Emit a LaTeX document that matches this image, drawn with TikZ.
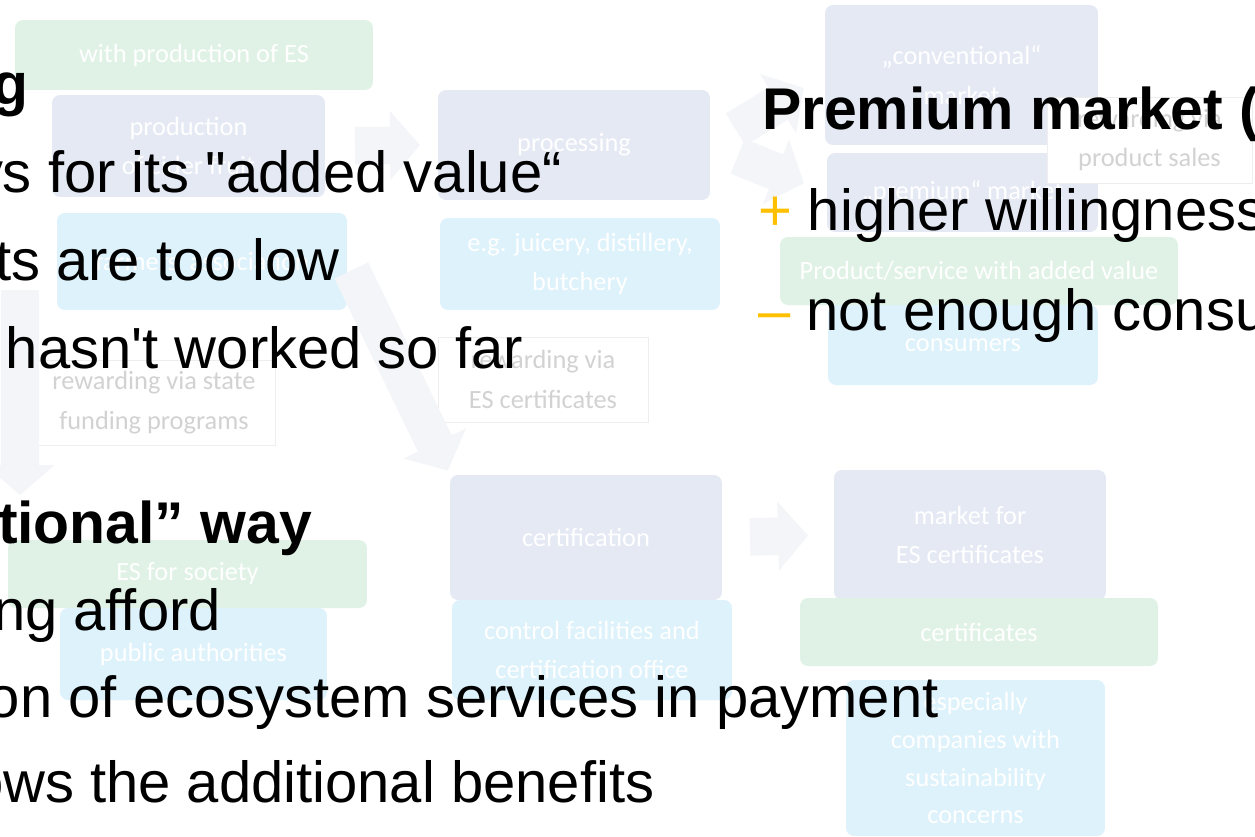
\documentclass[tikz,border=0pt]{standalone}
\usepackage{fontspec}
\setmainfont{Liberation Sans}
\newfontfamily\boxfont{Carlito}
\usetikzlibrary{arrows.meta}
\definecolor{boxblue}{HTML}{E4E9F4}
\definecolor{boxcyan}{HTML}{DDF2FA}
\definecolor{boxgreen}{HTML}{DFF2E5}
\definecolor{boxline}{HTML}{EEEEEE}
\definecolor{boxgrey}{HTML}{D2D2D2}
\definecolor{fadegrey}{HTML}{F4F5F9}
\definecolor{markorange}{HTML}{FFC000}

\begin{document}
\begin{tikzpicture}[x=0.02cm,y=-0.02cm,
  every node/.style={align=center,inner sep=0pt,outer sep=0pt,
    font=\boxfont\fontsize{15}{22.5}\selectfont},
  es/.style={rounded corners=0.16cm,text=white},
  bluebox/.style={es,fill=boxblue},
  cyanbox/.style={es,fill=boxcyan},
  greenbox/.style={es,fill=boxgreen},
  paybox/.style={draw=boxline,fill=white,text=boxgrey},
  fade/.style={draw=fadegrey,line width=0.75cm,
    -{Triangle[length=0.6cm,width=1.35cm]}},
  txt/.style={anchor=base west,text=black,font=\fontsize{33}{40}\selectfont},
  hd/.style={txt,font=\bfseries\fontsize{33.5}{40}\selectfont}]
\useasboundingbox (0,0) rectangle (1255,836);
\clip (0,0) rectangle (1255,836);
\fill [white] (0,0) rectangle (1255,836);

\node (ines) [greenbox,minimum width=7.16cm,minimum height=1.4cm] at (194,55) {with production of ES};
\node (prod) [bluebox,minimum width=5.46cm,minimum height=2.04cm] at (188.5,146) {production\\of cider fruit};
\node (farm) [cyanbox,minimum width=5.8cm,minimum height=1.94cm] at (202,261.5) {farmers' association};
\node (rst) [paybox,minimum width=4.84cm,minimum height=1.7cm] at (154,402.5) {rewarding via state\\funding programs};

\node (proc) [bluebox,minimum width=5.44cm,minimum height=2.2cm] at (574,145) {processing};
\node (juic) [cyanbox,minimum width=5.6cm,minimum height=1.84cm] at (580,264) {e.g. juicery, distillery,\\butchery};
\node (rcert) [paybox,minimum width=4.2cm,minimum height=1.7cm] at (543,379.5) {rewarding via\\ES certificates};
\node (cert) [bluebox,minimum width=5.44cm,minimum height=2.5cm] at (586,537.5) {certification};
\node (ctrl) [cyanbox,minimum width=5.6cm,minimum height=2cm] at (592,650) {control facilities and\\certification office};

\node (conv) [bluebox,minimum width=5.46cm,minimum height=2.8cm] at (961.5,75) {„conventional“\\market};
\node (prem) [bluebox,minimum width=5.42cm,minimum height=1.58cm] at (962.5,192.5) {„premium“ market};
\node (rsale) [paybox,minimum width=4.1cm,minimum height=1.72cm] at (1149.5,140) {rewarding via\\product sales};
\node (addv) [greenbox,minimum width=7.96cm,minimum height=1.36cm] at (979,271) {Product/service with added value};
\node (cons) [cyanbox,minimum width=5.4cm,minimum height=1.6cm] at (963,345) {consumers};

\node (esm) [bluebox,minimum width=5.44cm,minimum height=2.6cm] at (970,535) {market for\\ES certificates};
\node (certs) [greenbox,minimum width=7.16cm,minimum height=1.36cm] at (979,632) {certificates};
\node (comp) [cyanbox,minimum width=5.18cm,minimum height=3.12cm,
  font=\boxfont\fontsize{15}{21.6}\selectfont] at (975.5,758)
  {especially\\companies with\\sustainability\\concerns};

\node (soc) [greenbox,minimum width=7.18cm,minimum height=1.36cm] at (187.5,574) {ES for society};
\node (auth) [cyanbox,minimum width=5.34cm,minimum height=1.84cm] at (193.5,654) {public authorities};

\coordinate (down) at (20,290);
\draw [fade,shorten <=0.6cm,shorten >=0.36cm] (prod.east) -- (proc.west);
\draw [fade,shorten <=0.6cm,shorten >=0.5cm] (proc.east) -- (conv.west);
\draw [fade,shorten <=0.6cm,shorten >=0.5cm] (proc.east) -- (prem.west);
\draw [fade,shorten <=0.2cm,shorten >=0.1cm] (farm.east) -- (cert.north west);
\draw [fade,shorten >=0.9cm] (down) -- (down |- soc.north);
\draw [fade,shorten <=0.56cm,shorten >=0.52cm] (cert.east) -- (esm.west);

\node (t1) [hd] at (-8,104) {g};
\node (t2) [txt] at (-26,192) {ys for its \textquotedbl added value“};
\node (t3) [txt] at (-5,280) {ts are too low};
\node (t4) [txt] at (6,368) {hasn\textquotesingle t worked so far};
\node (t5) [hd] at (-2,543) {tional” way};
\node (t6) [txt] at (-7,630) {ng afford};
\node (t7) [txt] at (-12,717) {on of ecosystem services in payment};
\node (t8) [txt] at (-29,802) {ows the additional benefits};

\node (u1) [hd] at (762,129) {Premium market (};
\node (u2) [txt] at (758,230) {\textcolor{markorange}{+} higher willingness};
\node (u3) [txt] at (758,330) {\textcolor{markorange}{–} not enough consu};
\end{tikzpicture}
\end{document}
